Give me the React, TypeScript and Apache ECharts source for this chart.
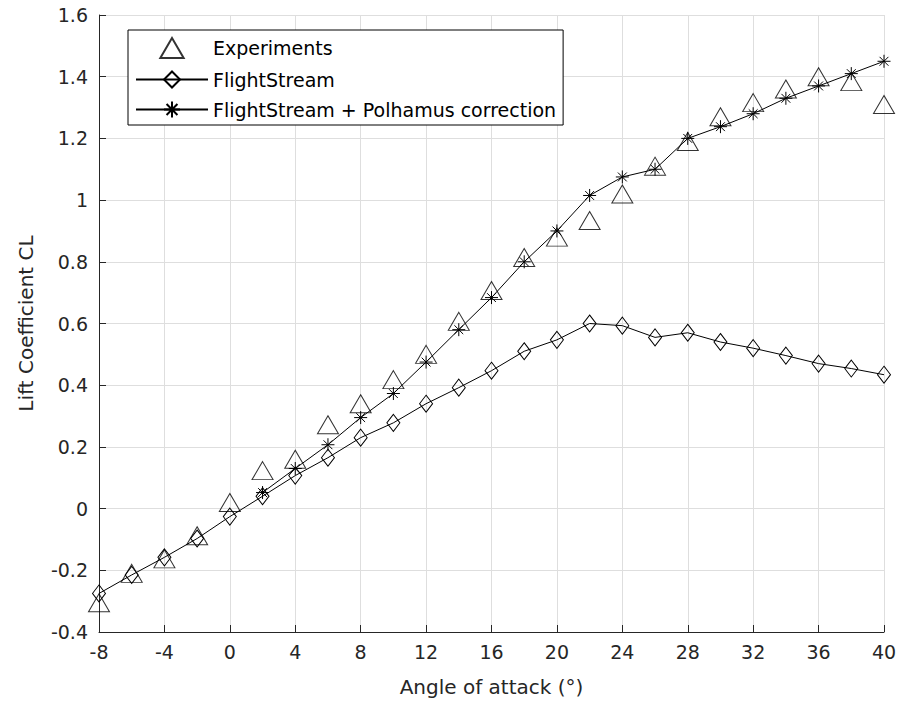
import React, { useEffect, useRef } from "react";
import * as echarts from "echarts";

const angles = [-8, -6, -4, -2, 0, 2, 4, 6, 8, 10, 12, 14, 16, 18, 20, 22, 24, 26, 28, 30, 32, 34, 36, 38, 40];
const experiments = [-0.305, -0.21, -0.163, -0.088, 0.02, 0.123, 0.16, 0.272, 0.34, 0.418, 0.5, 0.607, 0.707, 0.814, 0.88, 0.934, 1.02, 1.11, 1.19, 1.27, 1.316, 1.36, 1.4, 1.384, 1.31];
const flightStream = [-0.275, -0.215, -0.158, -0.097, -0.026, 0.04, 0.107, 0.165, 0.23, 0.278, 0.34, 0.392, 0.447, 0.51, 0.547, 0.6, 0.593, 0.555, 0.57, 0.54, 0.52, 0.496, 0.47, 0.454, 0.434];
const polhamus = [null, null, null, null, null, 0.052, 0.13, 0.207, 0.295, 0.373, 0.475, 0.58, 0.684, 0.8, 0.9, 1.015, 1.075, 1.1, 1.2, 1.238, 1.28, 1.33, 1.37, 1.41, 1.45];
const seriesNames = ["Experiments", "FlightStream", "FlightStream + Polhamus correction"];
const xLabel = "Angle of attack (°)";
const yLabel = "Lift Coefficient CL";

const FONT = "DejaVu Sans";
const ASTERISK = "path://M5 0L5 10M0 5L10 5M1.6 1.6L8.4 8.4M8.4 1.6L1.6 8.4";
const TRIANGLE = "path://M10.5 0L21 18L0 18Z";

export default function App() {
  const ref = useRef<HTMLDivElement>(null);
  useEffect(() => {
    if (!ref.current) return;
    const chart = echarts.init(ref.current, null, { renderer: "svg" });
    const pair = (ys: (number | null)[]) => angles.map((x, i) => [x, ys[i]]);
    const markerStyle = { color: "transparent", borderColor: "#000", borderWidth: 1 };
    chart.setOption({
      animation: false,
      backgroundColor: "#fff",
      grid: { left: 99, right: 17, top: 15, bottom: 79, containLabel: false, outerBoundsMode: "none" },
      legend: {
        orient: "vertical",
        left: 128,
        top: 30,
        padding: [7, 7, 6, 7],
        itemGap: 11,
        itemWidth: 72,
        itemHeight: 20,
        symbolKeepAspect: true,
        borderColor: "#000",
        borderWidth: 1,
        backgroundColor: "#fff",
        textStyle: { fontFamily: FONT, fontSize: 19, color: "#000" },
        data: [
          { name: seriesNames[0], icon: TRIANGLE },
          { name: seriesNames[1] },
          { name: seriesNames[2] },
        ],
      },
      xAxis: {
        type: "value",
        min: -8,
        max: 40,
        interval: 4,
        name: xLabel,
        nameLocation: "middle",
        nameGap: 45,
        nameTextStyle: { fontFamily: FONT, fontSize: 20, color: "#262626" },
        axisLine: { onZero: false, lineStyle: { color: "#262626", width: 1 } },
        axisTick: { inside: true, length: 7, lineStyle: { color: "#262626" } },
        axisLabel: { fontFamily: FONT, fontSize: 19, color: "#262626", margin: 10 },
        splitLine: { show: true, lineStyle: { color: "#dedede", width: 1 } },
      },
      yAxis: {
        type: "value",
        min: -0.4,
        max: 1.6,
        interval: 0.2,
        name: yLabel,
        nameLocation: "middle",
        nameGap: 63,
        nameTextStyle: { fontFamily: FONT, fontSize: 20, color: "#262626" },
        axisLine: { show: true, onZero: false, lineStyle: { color: "#262626", width: 1 } },
        axisTick: { show: true, inside: true, length: 7, lineStyle: { color: "#262626" } },
        axisLabel: {
          fontFamily: FONT,
          fontSize: 19,
          color: "#262626",
          margin: 11,
          formatter: (v: number) => String(+v.toFixed(1)),
        },
        splitLine: { show: true, lineStyle: { color: "#dedede", width: 1 } },
      },
      series: [
        {
          name: seriesNames[1],
          type: "line",
          data: pair(flightStream),
          symbol: "diamond",
          symbolSize: [13, 17],
          lineStyle: { color: "#000", width: 1 },
          itemStyle: markerStyle,
          color: "#000",
          z: 3,
        },
        {
          name: seriesNames[2],
          type: "line",
          data: pair(polhamus),
          symbol: ASTERISK,
          symbolSize: 13,
          lineStyle: { color: "#000", width: 1 },
          itemStyle: markerStyle,
          color: "#000",
          z: 4,
        },
        {
          name: seriesNames[0],
          type: "scatter",
          data: pair(experiments),
          symbol: "triangle",
          symbolSize: [21, 18],
          itemStyle: markerStyle,
          color: "#000",
          z: 5,
        },
      ],
    });
    return () => chart.dispose();
  }, []);
  return (
    <div
      ref={ref}
      style={{ position: "fixed", left: 0, top: 0, width: 901, height: 711, background: "#fff" }}
    />
  );
}
